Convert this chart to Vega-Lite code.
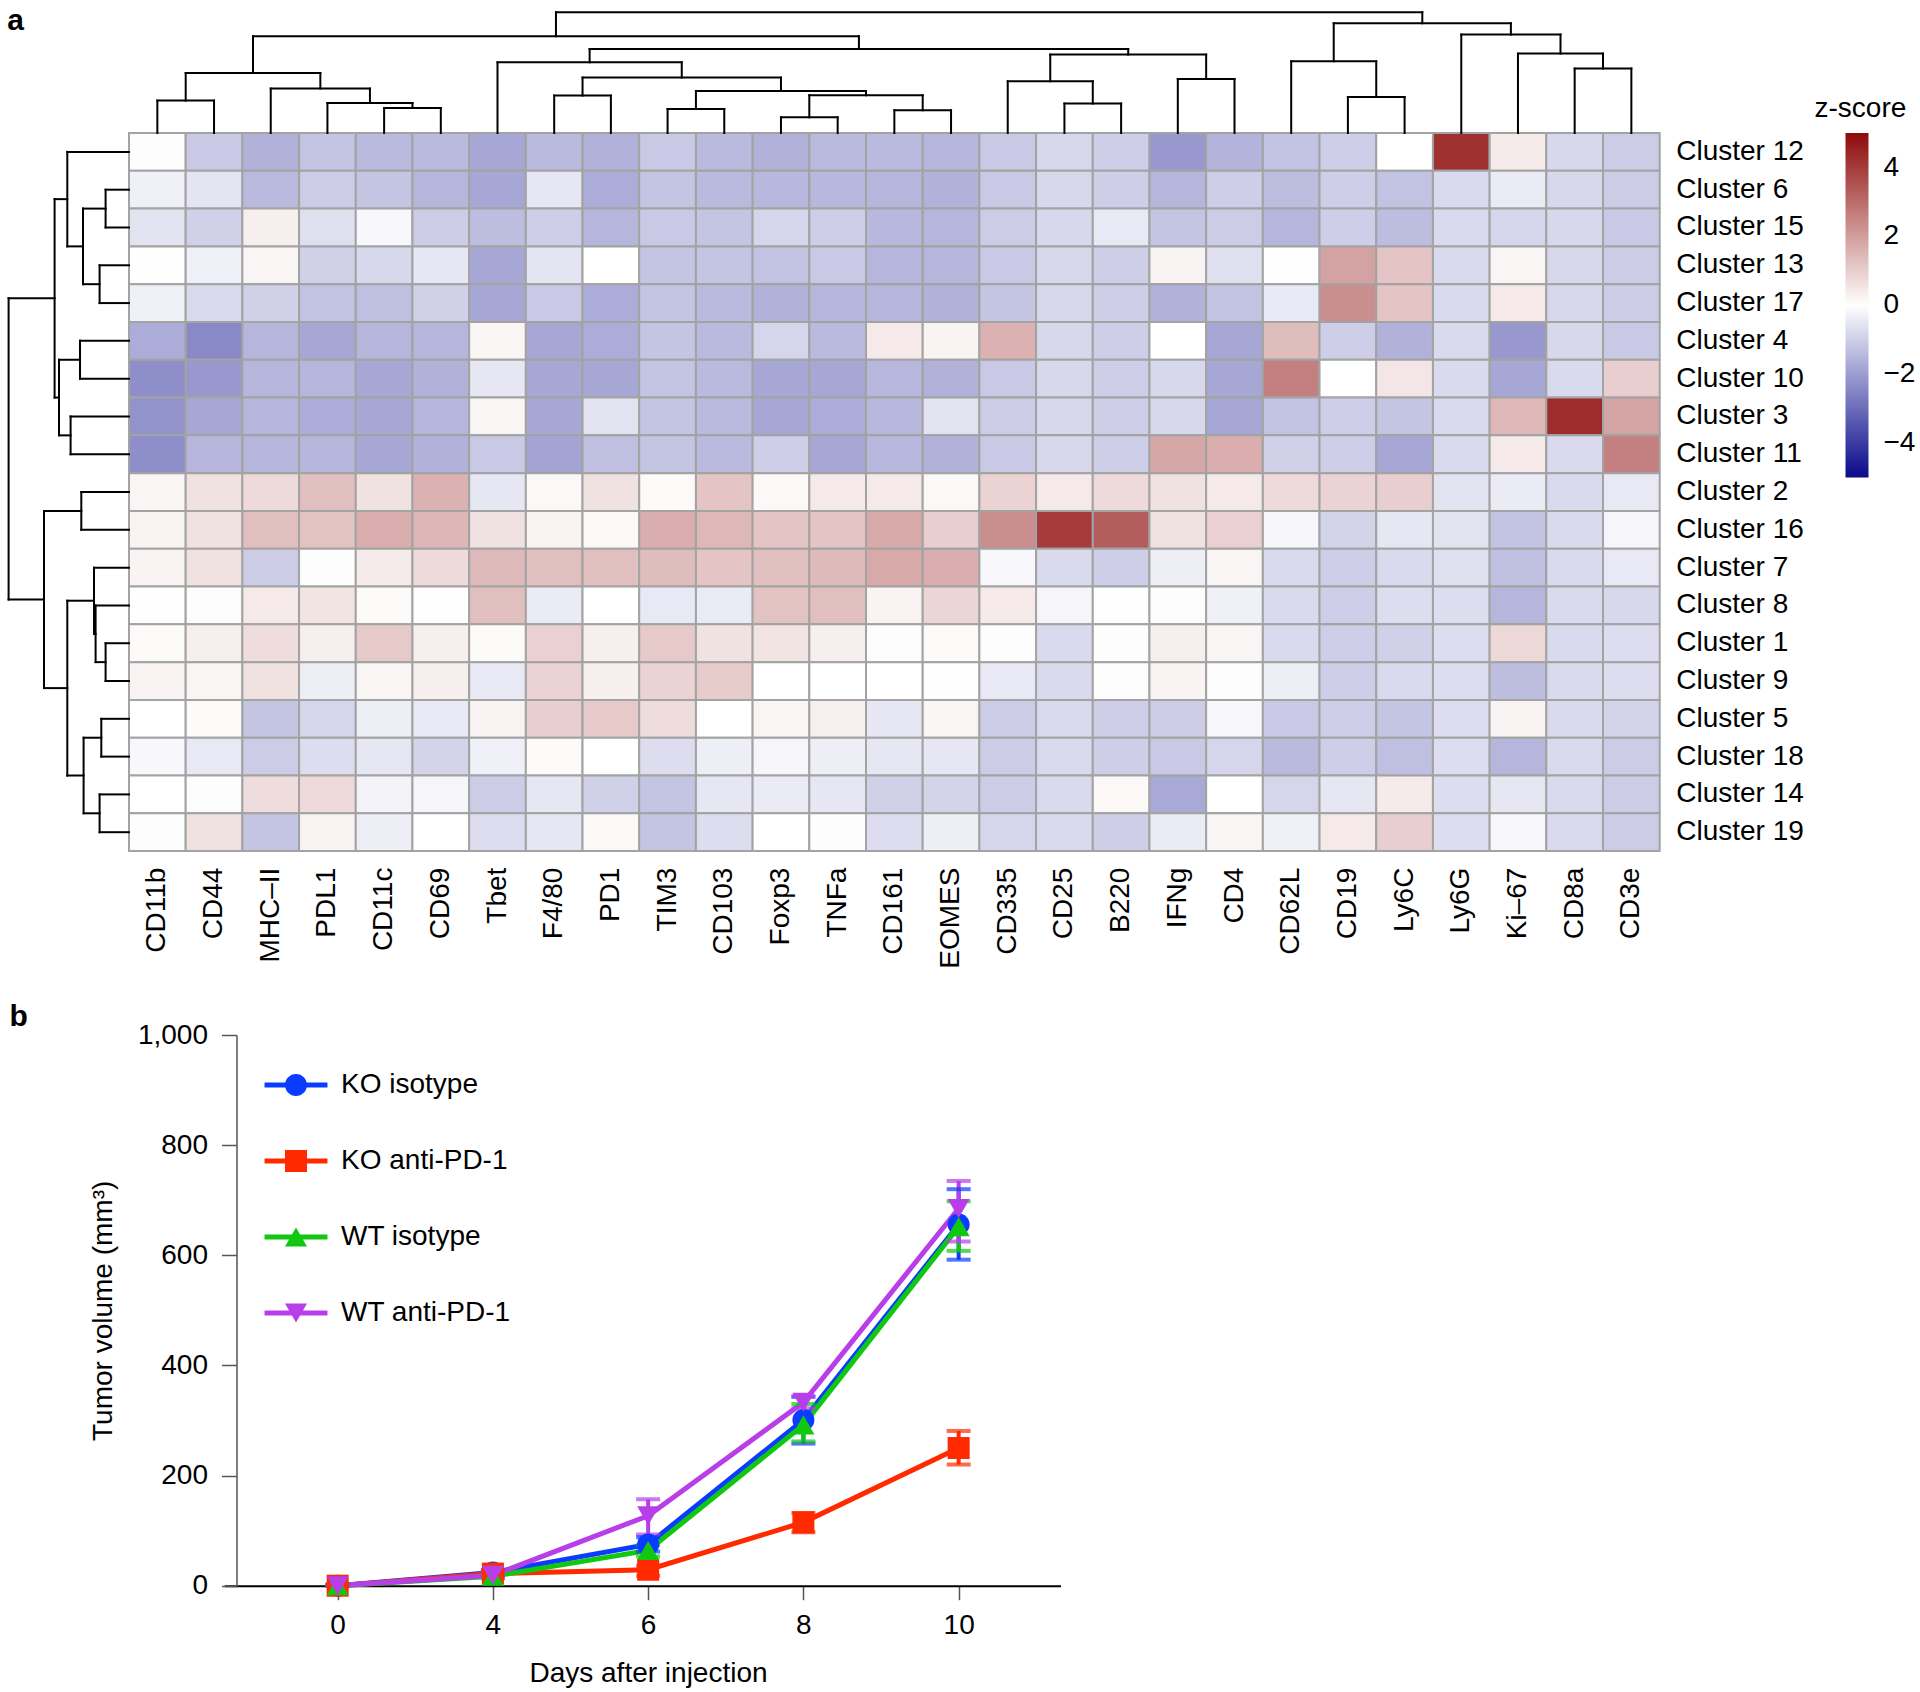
{
"$schema": "https://vega.github.io/schema/vega-lite/v6.json",
"background": "white",
"padding": {"left": 7, "top": 5, "right": 0, "bottom": 0},
"columns": 1,
"align": "none",
"spacing": 33,
"config": {
  "font": "Liberation Sans",
  "view": {"stroke": null},
  "axis": {"labelColor": "black", "titleColor": "black", "titleFontWeight": "normal", "grid": false},
  "legend": {"labelColor": "black", "titleColor": "black"}
},
"concat": [
{
  "width": 1530.7,
  "height": 718.1,
  "title": {"text": "a", "anchor": "start", "frame": "bounds", "fontSize": 30, "fontWeight": "bold", "baseline": "alphabetic", "offset": -12, "dy": 37, "color": "black"},
  "resolve": {"scale": {"x": "independent", "y": "independent"}},
  "layer": [
  {
    "data": {"values": [
{"cluster":"Cluster 12","marker":"CD11b","z":0.05},{"cluster":"Cluster 12","marker":"CD44","z":-1.1},{"cluster":"Cluster 12","marker":"MHC–II","z":-1.6},{"cluster":"Cluster 12","marker":"PDL1","z":-1.2},{"cluster":"Cluster 12","marker":"CD11c","z":-1.4},{"cluster":"Cluster 12","marker":"CD69","z":-1.4},{"cluster":"Cluster 12","marker":"Tbet","z":-1.8},{"cluster":"Cluster 12","marker":"F4/80","z":-1.4},{"cluster":"Cluster 12","marker":"PD1","z":-1.6},{"cluster":"Cluster 12","marker":"TIM3","z":-1.1},{"cluster":"Cluster 12","marker":"CD103","z":-1.4},{"cluster":"Cluster 12","marker":"Foxp3","z":-1.6},{"cluster":"Cluster 12","marker":"TNFa","z":-1.4},{"cluster":"Cluster 12","marker":"CD161","z":-1.4},{"cluster":"Cluster 12","marker":"EOMES","z":-1.5},{"cluster":"Cluster 12","marker":"CD335","z":-1.1},{"cluster":"Cluster 12","marker":"CD25","z":-0.8},{"cluster":"Cluster 12","marker":"B220","z":-1.0},{"cluster":"Cluster 12","marker":"IFNg","z":-2.1},{"cluster":"Cluster 12","marker":"CD4","z":-1.55},{"cluster":"Cluster 12","marker":"CD62L","z":-1.25},{"cluster":"Cluster 12","marker":"CD19","z":-1.0},{"cluster":"Cluster 12","marker":"Ly6C","z":0},{"cluster":"Cluster 12","marker":"Ly6G","z":4.2},{"cluster":"Cluster 12","marker":"Ki–67","z":0.4},{"cluster":"Cluster 12","marker":"CD8a","z":-0.8},{"cluster":"Cluster 12","marker":"CD3e","z":-1.05},
{"cluster":"Cluster 6","marker":"CD11b","z":-0.3},{"cluster":"Cluster 6","marker":"CD44","z":-0.55},{"cluster":"Cluster 6","marker":"MHC–II","z":-1.4},{"cluster":"Cluster 6","marker":"PDL1","z":-1.05},{"cluster":"Cluster 6","marker":"CD11c","z":-1.2},{"cluster":"Cluster 6","marker":"CD69","z":-1.5},{"cluster":"Cluster 6","marker":"Tbet","z":-1.8},{"cluster":"Cluster 6","marker":"F4/80","z":-0.5},{"cluster":"Cluster 6","marker":"PD1","z":-1.7},{"cluster":"Cluster 6","marker":"TIM3","z":-1.2},{"cluster":"Cluster 6","marker":"CD103","z":-1.4},{"cluster":"Cluster 6","marker":"Foxp3","z":-1.45},{"cluster":"Cluster 6","marker":"TNFa","z":-1.45},{"cluster":"Cluster 6","marker":"CD161","z":-1.5},{"cluster":"Cluster 6","marker":"EOMES","z":-1.6},{"cluster":"Cluster 6","marker":"CD335","z":-1.1},{"cluster":"Cluster 6","marker":"CD25","z":-0.8},{"cluster":"Cluster 6","marker":"B220","z":-1.0},{"cluster":"Cluster 6","marker":"IFNg","z":-1.5},{"cluster":"Cluster 6","marker":"CD4","z":-1.0},{"cluster":"Cluster 6","marker":"CD62L","z":-1.35},{"cluster":"Cluster 6","marker":"CD19","z":-1.0},{"cluster":"Cluster 6","marker":"Ly6C","z":-1.25},{"cluster":"Cluster 6","marker":"Ly6G","z":-0.75},{"cluster":"Cluster 6","marker":"Ki–67","z":-0.4},{"cluster":"Cluster 6","marker":"CD8a","z":-0.8},{"cluster":"Cluster 6","marker":"CD3e","z":-1.05},
{"cluster":"Cluster 15","marker":"CD11b","z":-0.6},{"cluster":"Cluster 15","marker":"CD44","z":-0.95},{"cluster":"Cluster 15","marker":"MHC–II","z":0.35},{"cluster":"Cluster 15","marker":"PDL1","z":-0.65},{"cluster":"Cluster 15","marker":"CD11c","z":-0.15},{"cluster":"Cluster 15","marker":"CD69","z":-1.05},{"cluster":"Cluster 15","marker":"Tbet","z":-1.35},{"cluster":"Cluster 15","marker":"F4/80","z":-1.0},{"cluster":"Cluster 15","marker":"PD1","z":-1.5},{"cluster":"Cluster 15","marker":"TIM3","z":-1.1},{"cluster":"Cluster 15","marker":"CD103","z":-1.2},{"cluster":"Cluster 15","marker":"Foxp3","z":-0.85},{"cluster":"Cluster 15","marker":"TNFa","z":-1.0},{"cluster":"Cluster 15","marker":"CD161","z":-1.45},{"cluster":"Cluster 15","marker":"EOMES","z":-1.5},{"cluster":"Cluster 15","marker":"CD335","z":-1.05},{"cluster":"Cluster 15","marker":"CD25","z":-0.8},{"cluster":"Cluster 15","marker":"B220","z":-0.45},{"cluster":"Cluster 15","marker":"IFNg","z":-1.2},{"cluster":"Cluster 15","marker":"CD4","z":-1.05},{"cluster":"Cluster 15","marker":"CD62L","z":-1.5},{"cluster":"Cluster 15","marker":"CD19","z":-1.0},{"cluster":"Cluster 15","marker":"Ly6C","z":-1.35},{"cluster":"Cluster 15","marker":"Ly6G","z":-0.75},{"cluster":"Cluster 15","marker":"Ki–67","z":-0.85},{"cluster":"Cluster 15","marker":"CD8a","z":-0.8},{"cluster":"Cluster 15","marker":"CD3e","z":-1.1},
{"cluster":"Cluster 13","marker":"CD11b","z":0.02},{"cluster":"Cluster 13","marker":"CD44","z":-0.3},{"cluster":"Cluster 13","marker":"MHC–II","z":0.2},{"cluster":"Cluster 13","marker":"PDL1","z":-0.95},{"cluster":"Cluster 13","marker":"CD11c","z":-0.8},{"cluster":"Cluster 13","marker":"CD69","z":-0.5},{"cluster":"Cluster 13","marker":"Tbet","z":-1.8},{"cluster":"Cluster 13","marker":"F4/80","z":-0.55},{"cluster":"Cluster 13","marker":"PD1","z":0},{"cluster":"Cluster 13","marker":"TIM3","z":-1.2},{"cluster":"Cluster 13","marker":"CD103","z":-1.2},{"cluster":"Cluster 13","marker":"Foxp3","z":-1.25},{"cluster":"Cluster 13","marker":"TNFa","z":-1.1},{"cluster":"Cluster 13","marker":"CD161","z":-1.5},{"cluster":"Cluster 13","marker":"EOMES","z":-1.5},{"cluster":"Cluster 13","marker":"CD335","z":-1.1},{"cluster":"Cluster 13","marker":"CD25","z":-0.8},{"cluster":"Cluster 13","marker":"B220","z":-1.0},{"cluster":"Cluster 13","marker":"IFNg","z":0.25},{"cluster":"Cluster 13","marker":"CD4","z":-0.65},{"cluster":"Cluster 13","marker":"CD62L","z":0.02},{"cluster":"Cluster 13","marker":"CD19","z":1.9},{"cluster":"Cluster 13","marker":"Ly6C","z":1.2},{"cluster":"Cluster 13","marker":"Ly6G","z":-0.75},{"cluster":"Cluster 13","marker":"Ki–67","z":0.2},{"cluster":"Cluster 13","marker":"CD8a","z":-0.8},{"cluster":"Cluster 13","marker":"CD3e","z":-1.05},
{"cluster":"Cluster 17","marker":"CD11b","z":-0.3},{"cluster":"Cluster 17","marker":"CD44","z":-0.75},{"cluster":"Cluster 17","marker":"MHC–II","z":-0.95},{"cluster":"Cluster 17","marker":"PDL1","z":-1.25},{"cluster":"Cluster 17","marker":"CD11c","z":-1.3},{"cluster":"Cluster 17","marker":"CD69","z":-0.95},{"cluster":"Cluster 17","marker":"Tbet","z":-1.8},{"cluster":"Cluster 17","marker":"F4/80","z":-1.1},{"cluster":"Cluster 17","marker":"PD1","z":-1.7},{"cluster":"Cluster 17","marker":"TIM3","z":-1.2},{"cluster":"Cluster 17","marker":"CD103","z":-1.4},{"cluster":"Cluster 17","marker":"Foxp3","z":-1.6},{"cluster":"Cluster 17","marker":"TNFa","z":-1.5},{"cluster":"Cluster 17","marker":"CD161","z":-1.5},{"cluster":"Cluster 17","marker":"EOMES","z":-1.6},{"cluster":"Cluster 17","marker":"CD335","z":-1.2},{"cluster":"Cluster 17","marker":"CD25","z":-0.8},{"cluster":"Cluster 17","marker":"B220","z":-1.0},{"cluster":"Cluster 17","marker":"IFNg","z":-1.6},{"cluster":"Cluster 17","marker":"CD4","z":-1.25},{"cluster":"Cluster 17","marker":"CD62L","z":-0.45},{"cluster":"Cluster 17","marker":"CD19","z":2.3},{"cluster":"Cluster 17","marker":"Ly6C","z":1.2},{"cluster":"Cluster 17","marker":"Ly6G","z":-0.75},{"cluster":"Cluster 17","marker":"Ki–67","z":0.45},{"cluster":"Cluster 17","marker":"CD8a","z":-0.8},{"cluster":"Cluster 17","marker":"CD3e","z":-1.05},
{"cluster":"Cluster 4","marker":"CD11b","z":-1.7},{"cluster":"Cluster 4","marker":"CD44","z":-2.4},{"cluster":"Cluster 4","marker":"MHC–II","z":-1.5},{"cluster":"Cluster 4","marker":"PDL1","z":-1.8},{"cluster":"Cluster 4","marker":"CD11c","z":-1.5},{"cluster":"Cluster 4","marker":"CD69","z":-1.5},{"cluster":"Cluster 4","marker":"Tbet","z":0.2},{"cluster":"Cluster 4","marker":"F4/80","z":-1.8},{"cluster":"Cluster 4","marker":"PD1","z":-1.7},{"cluster":"Cluster 4","marker":"TIM3","z":-1.2},{"cluster":"Cluster 4","marker":"CD103","z":-1.4},{"cluster":"Cluster 4","marker":"Foxp3","z":-0.85},{"cluster":"Cluster 4","marker":"TNFa","z":-1.4},{"cluster":"Cluster 4","marker":"CD161","z":0.45},{"cluster":"Cluster 4","marker":"EOMES","z":0.25},{"cluster":"Cluster 4","marker":"CD335","z":1.6},{"cluster":"Cluster 4","marker":"CD25","z":-0.8},{"cluster":"Cluster 4","marker":"B220","z":-1.0},{"cluster":"Cluster 4","marker":"IFNg","z":0},{"cluster":"Cluster 4","marker":"CD4","z":-1.8},{"cluster":"Cluster 4","marker":"CD62L","z":1.35},{"cluster":"Cluster 4","marker":"CD19","z":-1.0},{"cluster":"Cluster 4","marker":"Ly6C","z":-1.6},{"cluster":"Cluster 4","marker":"Ly6G","z":-0.75},{"cluster":"Cluster 4","marker":"Ki–67","z":-2.1},{"cluster":"Cluster 4","marker":"CD8a","z":-0.8},{"cluster":"Cluster 4","marker":"CD3e","z":-1.1},
{"cluster":"Cluster 10","marker":"CD11b","z":-2.3},{"cluster":"Cluster 10","marker":"CD44","z":-2.1},{"cluster":"Cluster 10","marker":"MHC–II","z":-1.5},{"cluster":"Cluster 10","marker":"PDL1","z":-1.5},{"cluster":"Cluster 10","marker":"CD11c","z":-1.8},{"cluster":"Cluster 10","marker":"CD69","z":-1.6},{"cluster":"Cluster 10","marker":"Tbet","z":-0.5},{"cluster":"Cluster 10","marker":"F4/80","z":-1.8},{"cluster":"Cluster 10","marker":"PD1","z":-1.8},{"cluster":"Cluster 10","marker":"TIM3","z":-1.2},{"cluster":"Cluster 10","marker":"CD103","z":-1.4},{"cluster":"Cluster 10","marker":"Foxp3","z":-1.8},{"cluster":"Cluster 10","marker":"TNFa","z":-1.8},{"cluster":"Cluster 10","marker":"CD161","z":-1.45},{"cluster":"Cluster 10","marker":"EOMES","z":-1.6},{"cluster":"Cluster 10","marker":"CD335","z":-1.1},{"cluster":"Cluster 10","marker":"CD25","z":-0.8},{"cluster":"Cluster 10","marker":"B220","z":-1.0},{"cluster":"Cluster 10","marker":"IFNg","z":-0.8},{"cluster":"Cluster 10","marker":"CD4","z":-1.8},{"cluster":"Cluster 10","marker":"CD62L","z":2.6},{"cluster":"Cluster 10","marker":"CD19","z":0},{"cluster":"Cluster 10","marker":"Ly6C","z":0.5},{"cluster":"Cluster 10","marker":"Ly6G","z":-0.75},{"cluster":"Cluster 10","marker":"Ki–67","z":-1.8},{"cluster":"Cluster 10","marker":"CD8a","z":-0.75},{"cluster":"Cluster 10","marker":"CD3e","z":1.0},
{"cluster":"Cluster 3","marker":"CD11b","z":-2.2},{"cluster":"Cluster 3","marker":"CD44","z":-1.8},{"cluster":"Cluster 3","marker":"MHC–II","z":-1.5},{"cluster":"Cluster 3","marker":"PDL1","z":-1.7},{"cluster":"Cluster 3","marker":"CD11c","z":-1.8},{"cluster":"Cluster 3","marker":"CD69","z":-1.5},{"cluster":"Cluster 3","marker":"Tbet","z":0.2},{"cluster":"Cluster 3","marker":"F4/80","z":-1.8},{"cluster":"Cluster 3","marker":"PD1","z":-0.6},{"cluster":"Cluster 3","marker":"TIM3","z":-1.2},{"cluster":"Cluster 3","marker":"CD103","z":-1.4},{"cluster":"Cluster 3","marker":"Foxp3","z":-1.8},{"cluster":"Cluster 3","marker":"TNFa","z":-1.7},{"cluster":"Cluster 3","marker":"CD161","z":-1.45},{"cluster":"Cluster 3","marker":"EOMES","z":-0.6},{"cluster":"Cluster 3","marker":"CD335","z":-1.05},{"cluster":"Cluster 3","marker":"CD25","z":-0.8},{"cluster":"Cluster 3","marker":"B220","z":-1.0},{"cluster":"Cluster 3","marker":"IFNg","z":-0.8},{"cluster":"Cluster 3","marker":"CD4","z":-1.8},{"cluster":"Cluster 3","marker":"CD62L","z":-1.25},{"cluster":"Cluster 3","marker":"CD19","z":-1.0},{"cluster":"Cluster 3","marker":"Ly6C","z":-1.2},{"cluster":"Cluster 3","marker":"Ly6G","z":-0.75},{"cluster":"Cluster 3","marker":"Ki–67","z":1.45},{"cluster":"Cluster 3","marker":"CD8a","z":4.3},{"cluster":"Cluster 3","marker":"CD3e","z":1.85},
{"cluster":"Cluster 11","marker":"CD11b","z":-2.3},{"cluster":"Cluster 11","marker":"CD44","z":-1.5},{"cluster":"Cluster 11","marker":"MHC–II","z":-1.5},{"cluster":"Cluster 11","marker":"PDL1","z":-1.5},{"cluster":"Cluster 11","marker":"CD11c","z":-1.8},{"cluster":"Cluster 11","marker":"CD69","z":-1.6},{"cluster":"Cluster 11","marker":"Tbet","z":-1.1},{"cluster":"Cluster 11","marker":"F4/80","z":-1.85},{"cluster":"Cluster 11","marker":"PD1","z":-1.3},{"cluster":"Cluster 11","marker":"TIM3","z":-1.2},{"cluster":"Cluster 11","marker":"CD103","z":-1.4},{"cluster":"Cluster 11","marker":"Foxp3","z":-1.0},{"cluster":"Cluster 11","marker":"TNFa","z":-1.8},{"cluster":"Cluster 11","marker":"CD161","z":-1.45},{"cluster":"Cluster 11","marker":"EOMES","z":-1.6},{"cluster":"Cluster 11","marker":"CD335","z":-1.1},{"cluster":"Cluster 11","marker":"CD25","z":-0.8},{"cluster":"Cluster 11","marker":"B220","z":-1.0},{"cluster":"Cluster 11","marker":"IFNg","z":1.8},{"cluster":"Cluster 11","marker":"CD4","z":1.65},{"cluster":"Cluster 11","marker":"CD62L","z":-0.95},{"cluster":"Cluster 11","marker":"CD19","z":-1.0},{"cluster":"Cluster 11","marker":"Ly6C","z":-1.8},{"cluster":"Cluster 11","marker":"Ly6G","z":-0.75},{"cluster":"Cluster 11","marker":"Ki–67","z":0.45},{"cluster":"Cluster 11","marker":"CD8a","z":-0.75},{"cluster":"Cluster 11","marker":"CD3e","z":2.6},
{"cluster":"Cluster 2","marker":"CD11b","z":0.2},{"cluster":"Cluster 2","marker":"CD44","z":0.6},{"cluster":"Cluster 2","marker":"MHC–II","z":0.75},{"cluster":"Cluster 2","marker":"PDL1","z":1.3},{"cluster":"Cluster 2","marker":"CD11c","z":0.6},{"cluster":"Cluster 2","marker":"CD69","z":1.6},{"cluster":"Cluster 2","marker":"Tbet","z":-0.5},{"cluster":"Cluster 2","marker":"F4/80","z":0.15},{"cluster":"Cluster 2","marker":"PD1","z":0.6},{"cluster":"Cluster 2","marker":"TIM3","z":0.1},{"cluster":"Cluster 2","marker":"CD103","z":1.2},{"cluster":"Cluster 2","marker":"Foxp3","z":0.15},{"cluster":"Cluster 2","marker":"TNFa","z":0.45},{"cluster":"Cluster 2","marker":"CD161","z":0.45},{"cluster":"Cluster 2","marker":"EOMES","z":0.15},{"cluster":"Cluster 2","marker":"CD335","z":0.9},{"cluster":"Cluster 2","marker":"CD25","z":0.45},{"cluster":"Cluster 2","marker":"B220","z":0.75},{"cluster":"Cluster 2","marker":"IFNg","z":0.6},{"cluster":"Cluster 2","marker":"CD4","z":0.45},{"cluster":"Cluster 2","marker":"CD62L","z":0.75},{"cluster":"Cluster 2","marker":"CD19","z":0.9},{"cluster":"Cluster 2","marker":"Ly6C","z":1.0},{"cluster":"Cluster 2","marker":"Ly6G","z":-0.6},{"cluster":"Cluster 2","marker":"Ki–67","z":-0.4},{"cluster":"Cluster 2","marker":"CD8a","z":-0.75},{"cluster":"Cluster 2","marker":"CD3e","z":-0.45},
{"cluster":"Cluster 16","marker":"CD11b","z":0.25},{"cluster":"Cluster 16","marker":"CD44","z":0.6},{"cluster":"Cluster 16","marker":"MHC–II","z":1.3},{"cluster":"Cluster 16","marker":"PDL1","z":1.25},{"cluster":"Cluster 16","marker":"CD11c","z":1.65},{"cluster":"Cluster 16","marker":"CD69","z":1.5},{"cluster":"Cluster 16","marker":"Tbet","z":0.6},{"cluster":"Cluster 16","marker":"F4/80","z":0.25},{"cluster":"Cluster 16","marker":"PD1","z":0.15},{"cluster":"Cluster 16","marker":"TIM3","z":1.65},{"cluster":"Cluster 16","marker":"CD103","z":1.45},{"cluster":"Cluster 16","marker":"Foxp3","z":1.2},{"cluster":"Cluster 16","marker":"TNFa","z":1.2},{"cluster":"Cluster 16","marker":"CD161","z":1.75},{"cluster":"Cluster 16","marker":"EOMES","z":1.0},{"cluster":"Cluster 16","marker":"CD335","z":2.3},{"cluster":"Cluster 16","marker":"CD25","z":4.0},{"cluster":"Cluster 16","marker":"B220","z":3.3},{"cluster":"Cluster 16","marker":"IFNg","z":0.6},{"cluster":"Cluster 16","marker":"CD4","z":0.95},{"cluster":"Cluster 16","marker":"CD62L","z":-0.2},{"cluster":"Cluster 16","marker":"CD19","z":-0.9},{"cluster":"Cluster 16","marker":"Ly6C","z":-0.5},{"cluster":"Cluster 16","marker":"Ly6G","z":-0.6},{"cluster":"Cluster 16","marker":"Ki–67","z":-1.25},{"cluster":"Cluster 16","marker":"CD8a","z":-0.75},{"cluster":"Cluster 16","marker":"CD3e","z":-0.2},
{"cluster":"Cluster 7","marker":"CD11b","z":0.25},{"cluster":"Cluster 7","marker":"CD44","z":0.6},{"cluster":"Cluster 7","marker":"MHC–II","z":-1.05},{"cluster":"Cluster 7","marker":"PDL1","z":0.05},{"cluster":"Cluster 7","marker":"CD11c","z":0.4},{"cluster":"Cluster 7","marker":"CD69","z":0.75},{"cluster":"Cluster 7","marker":"Tbet","z":1.4},{"cluster":"Cluster 7","marker":"F4/80","z":1.3},{"cluster":"Cluster 7","marker":"PD1","z":1.3},{"cluster":"Cluster 7","marker":"TIM3","z":1.35},{"cluster":"Cluster 7","marker":"CD103","z":1.2},{"cluster":"Cluster 7","marker":"Foxp3","z":1.3},{"cluster":"Cluster 7","marker":"TNFa","z":1.4},{"cluster":"Cluster 7","marker":"CD161","z":1.75},{"cluster":"Cluster 7","marker":"EOMES","z":1.65},{"cluster":"Cluster 7","marker":"CD335","z":-0.15},{"cluster":"Cluster 7","marker":"CD25","z":-0.75},{"cluster":"Cluster 7","marker":"B220","z":-1.0},{"cluster":"Cluster 7","marker":"IFNg","z":-0.35},{"cluster":"Cluster 7","marker":"CD4","z":0.2},{"cluster":"Cluster 7","marker":"CD62L","z":-0.75},{"cluster":"Cluster 7","marker":"CD19","z":-1.0},{"cluster":"Cluster 7","marker":"Ly6C","z":-0.75},{"cluster":"Cluster 7","marker":"Ly6G","z":-0.65},{"cluster":"Cluster 7","marker":"Ki–67","z":-1.3},{"cluster":"Cluster 7","marker":"CD8a","z":-0.75},{"cluster":"Cluster 7","marker":"CD3e","z":-0.45},
{"cluster":"Cluster 8","marker":"CD11b","z":0.02},{"cluster":"Cluster 8","marker":"CD44","z":0.05},{"cluster":"Cluster 8","marker":"MHC–II","z":0.45},{"cluster":"Cluster 8","marker":"PDL1","z":0.55},{"cluster":"Cluster 8","marker":"CD11c","z":0.1},{"cluster":"Cluster 8","marker":"CD69","z":0.02},{"cluster":"Cluster 8","marker":"Tbet","z":1.3},{"cluster":"Cluster 8","marker":"F4/80","z":-0.4},{"cluster":"Cluster 8","marker":"PD1","z":0},{"cluster":"Cluster 8","marker":"TIM3","z":-0.45},{"cluster":"Cluster 8","marker":"CD103","z":-0.4},{"cluster":"Cluster 8","marker":"Foxp3","z":1.25},{"cluster":"Cluster 8","marker":"TNFa","z":1.3},{"cluster":"Cluster 8","marker":"CD161","z":0.25},{"cluster":"Cluster 8","marker":"EOMES","z":0.85},{"cluster":"Cluster 8","marker":"CD335","z":0.45},{"cluster":"Cluster 8","marker":"CD25","z":-0.2},{"cluster":"Cluster 8","marker":"B220","z":0.02},{"cluster":"Cluster 8","marker":"IFNg","z":0.05},{"cluster":"Cluster 8","marker":"CD4","z":-0.3},{"cluster":"Cluster 8","marker":"CD62L","z":-0.75},{"cluster":"Cluster 8","marker":"CD19","z":-1.0},{"cluster":"Cluster 8","marker":"Ly6C","z":-0.7},{"cluster":"Cluster 8","marker":"Ly6G","z":-0.7},{"cluster":"Cluster 8","marker":"Ki–67","z":-1.5},{"cluster":"Cluster 8","marker":"CD8a","z":-0.75},{"cluster":"Cluster 8","marker":"CD3e","z":-0.8},
{"cluster":"Cluster 1","marker":"CD11b","z":0.1},{"cluster":"Cluster 1","marker":"CD44","z":0.35},{"cluster":"Cluster 1","marker":"MHC–II","z":0.7},{"cluster":"Cluster 1","marker":"PDL1","z":0.35},{"cluster":"Cluster 1","marker":"CD11c","z":1.1},{"cluster":"Cluster 1","marker":"CD69","z":0.35},{"cluster":"Cluster 1","marker":"Tbet","z":0.1},{"cluster":"Cluster 1","marker":"F4/80","z":0.95},{"cluster":"Cluster 1","marker":"PD1","z":0.35},{"cluster":"Cluster 1","marker":"TIM3","z":1.1},{"cluster":"Cluster 1","marker":"CD103","z":0.6},{"cluster":"Cluster 1","marker":"Foxp3","z":0.55},{"cluster":"Cluster 1","marker":"TNFa","z":0.35},{"cluster":"Cluster 1","marker":"CD161","z":0.05},{"cluster":"Cluster 1","marker":"EOMES","z":0.1},{"cluster":"Cluster 1","marker":"CD335","z":0.05},{"cluster":"Cluster 1","marker":"CD25","z":-0.75},{"cluster":"Cluster 1","marker":"B220","z":0.05},{"cluster":"Cluster 1","marker":"IFNg","z":0.35},{"cluster":"Cluster 1","marker":"CD4","z":0.2},{"cluster":"Cluster 1","marker":"CD62L","z":-0.75},{"cluster":"Cluster 1","marker":"CD19","z":-1.0},{"cluster":"Cluster 1","marker":"Ly6C","z":-0.95},{"cluster":"Cluster 1","marker":"Ly6G","z":-0.7},{"cluster":"Cluster 1","marker":"Ki–67","z":0.8},{"cluster":"Cluster 1","marker":"CD8a","z":-0.75},{"cluster":"Cluster 1","marker":"CD3e","z":-0.7},
{"cluster":"Cluster 9","marker":"CD11b","z":0.25},{"cluster":"Cluster 9","marker":"CD44","z":0.2},{"cluster":"Cluster 9","marker":"MHC–II","z":0.6},{"cluster":"Cluster 9","marker":"PDL1","z":-0.35},{"cluster":"Cluster 9","marker":"CD11c","z":0.2},{"cluster":"Cluster 9","marker":"CD69","z":0.35},{"cluster":"Cluster 9","marker":"Tbet","z":-0.45},{"cluster":"Cluster 9","marker":"F4/80","z":0.9},{"cluster":"Cluster 9","marker":"PD1","z":0.35},{"cluster":"Cluster 9","marker":"TIM3","z":0.9},{"cluster":"Cluster 9","marker":"CD103","z":1.05},{"cluster":"Cluster 9","marker":"Foxp3","z":0},{"cluster":"Cluster 9","marker":"TNFa","z":0},{"cluster":"Cluster 9","marker":"CD161","z":0},{"cluster":"Cluster 9","marker":"EOMES","z":0.03},{"cluster":"Cluster 9","marker":"CD335","z":-0.45},{"cluster":"Cluster 9","marker":"CD25","z":-0.75},{"cluster":"Cluster 9","marker":"B220","z":0.05},{"cluster":"Cluster 9","marker":"IFNg","z":0.25},{"cluster":"Cluster 9","marker":"CD4","z":0.05},{"cluster":"Cluster 9","marker":"CD62L","z":-0.35},{"cluster":"Cluster 9","marker":"CD19","z":-1.0},{"cluster":"Cluster 9","marker":"Ly6C","z":-0.75},{"cluster":"Cluster 9","marker":"Ly6G","z":-0.7},{"cluster":"Cluster 9","marker":"Ki–67","z":-1.35},{"cluster":"Cluster 9","marker":"CD8a","z":-0.75},{"cluster":"Cluster 9","marker":"CD3e","z":-0.7},
{"cluster":"Cluster 5","marker":"CD11b","z":0},{"cluster":"Cluster 5","marker":"CD44","z":0.1},{"cluster":"Cluster 5","marker":"MHC–II","z":-1.2},{"cluster":"Cluster 5","marker":"PDL1","z":-0.85},{"cluster":"Cluster 5","marker":"CD11c","z":-0.35},{"cluster":"Cluster 5","marker":"CD69","z":-0.45},{"cluster":"Cluster 5","marker":"Tbet","z":0.25},{"cluster":"Cluster 5","marker":"F4/80","z":1.0},{"cluster":"Cluster 5","marker":"PD1","z":1.1},{"cluster":"Cluster 5","marker":"TIM3","z":0.7},{"cluster":"Cluster 5","marker":"CD103","z":0},{"cluster":"Cluster 5","marker":"Foxp3","z":0.2},{"cluster":"Cluster 5","marker":"TNFa","z":0.3},{"cluster":"Cluster 5","marker":"CD161","z":-0.5},{"cluster":"Cluster 5","marker":"EOMES","z":0.2},{"cluster":"Cluster 5","marker":"CD335","z":-1.05},{"cluster":"Cluster 5","marker":"CD25","z":-0.75},{"cluster":"Cluster 5","marker":"B220","z":-1.0},{"cluster":"Cluster 5","marker":"IFNg","z":-1.05},{"cluster":"Cluster 5","marker":"CD4","z":-0.15},{"cluster":"Cluster 5","marker":"CD62L","z":-1.1},{"cluster":"Cluster 5","marker":"CD19","z":-1.0},{"cluster":"Cluster 5","marker":"Ly6C","z":-1.2},{"cluster":"Cluster 5","marker":"Ly6G","z":-0.7},{"cluster":"Cluster 5","marker":"Ki–67","z":0.25},{"cluster":"Cluster 5","marker":"CD8a","z":-0.75},{"cluster":"Cluster 5","marker":"CD3e","z":-0.9},
{"cluster":"Cluster 18","marker":"CD11b","z":-0.15},{"cluster":"Cluster 18","marker":"CD44","z":-0.45},{"cluster":"Cluster 18","marker":"MHC–II","z":-1.05},{"cluster":"Cluster 18","marker":"PDL1","z":-0.7},{"cluster":"Cluster 18","marker":"CD11c","z":-0.5},{"cluster":"Cluster 18","marker":"CD69","z":-0.9},{"cluster":"Cluster 18","marker":"Tbet","z":-0.3},{"cluster":"Cluster 18","marker":"F4/80","z":0.1},{"cluster":"Cluster 18","marker":"PD1","z":0},{"cluster":"Cluster 18","marker":"TIM3","z":-0.7},{"cluster":"Cluster 18","marker":"CD103","z":-0.35},{"cluster":"Cluster 18","marker":"Foxp3","z":-0.2},{"cluster":"Cluster 18","marker":"TNFa","z":-0.35},{"cluster":"Cluster 18","marker":"CD161","z":-0.5},{"cluster":"Cluster 18","marker":"EOMES","z":-0.5},{"cluster":"Cluster 18","marker":"CD335","z":-1.05},{"cluster":"Cluster 18","marker":"CD25","z":-0.75},{"cluster":"Cluster 18","marker":"B220","z":-1.0},{"cluster":"Cluster 18","marker":"IFNg","z":-1.1},{"cluster":"Cluster 18","marker":"CD4","z":-0.85},{"cluster":"Cluster 18","marker":"CD62L","z":-1.4},{"cluster":"Cluster 18","marker":"CD19","z":-1.0},{"cluster":"Cluster 18","marker":"Ly6C","z":-1.3},{"cluster":"Cluster 18","marker":"Ly6G","z":-0.7},{"cluster":"Cluster 18","marker":"Ki–67","z":-1.5},{"cluster":"Cluster 18","marker":"CD8a","z":-0.75},{"cluster":"Cluster 18","marker":"CD3e","z":-1.05},
{"cluster":"Cluster 14","marker":"CD11b","z":0},{"cluster":"Cluster 14","marker":"CD44","z":0.05},{"cluster":"Cluster 14","marker":"MHC–II","z":0.7},{"cluster":"Cluster 14","marker":"PDL1","z":0.75},{"cluster":"Cluster 14","marker":"CD11c","z":-0.25},{"cluster":"Cluster 14","marker":"CD69","z":-0.2},{"cluster":"Cluster 14","marker":"Tbet","z":-1.05},{"cluster":"Cluster 14","marker":"F4/80","z":-0.5},{"cluster":"Cluster 14","marker":"PD1","z":-0.95},{"cluster":"Cluster 14","marker":"TIM3","z":-1.2},{"cluster":"Cluster 14","marker":"CD103","z":-0.5},{"cluster":"Cluster 14","marker":"Foxp3","z":-0.4},{"cluster":"Cluster 14","marker":"TNFa","z":-0.5},{"cluster":"Cluster 14","marker":"CD161","z":-0.95},{"cluster":"Cluster 14","marker":"EOMES","z":-0.9},{"cluster":"Cluster 14","marker":"CD335","z":-1.05},{"cluster":"Cluster 14","marker":"CD25","z":-0.75},{"cluster":"Cluster 14","marker":"B220","z":0.15},{"cluster":"Cluster 14","marker":"IFNg","z":-1.75},{"cluster":"Cluster 14","marker":"CD4","z":0},{"cluster":"Cluster 14","marker":"CD62L","z":-0.85},{"cluster":"Cluster 14","marker":"CD19","z":-0.5},{"cluster":"Cluster 14","marker":"Ly6C","z":0.4},{"cluster":"Cluster 14","marker":"Ly6G","z":-0.7},{"cluster":"Cluster 14","marker":"Ki–67","z":-0.5},{"cluster":"Cluster 14","marker":"CD8a","z":-0.75},{"cluster":"Cluster 14","marker":"CD3e","z":-1.05},
{"cluster":"Cluster 19","marker":"CD11b","z":0.05},{"cluster":"Cluster 19","marker":"CD44","z":0.6},{"cluster":"Cluster 19","marker":"MHC–II","z":-1.2},{"cluster":"Cluster 19","marker":"PDL1","z":0.25},{"cluster":"Cluster 19","marker":"CD11c","z":-0.35},{"cluster":"Cluster 19","marker":"CD69","z":0},{"cluster":"Cluster 19","marker":"Tbet","z":-0.7},{"cluster":"Cluster 19","marker":"F4/80","z":-0.5},{"cluster":"Cluster 19","marker":"PD1","z":0.15},{"cluster":"Cluster 19","marker":"TIM3","z":-1.2},{"cluster":"Cluster 19","marker":"CD103","z":-0.7},{"cluster":"Cluster 19","marker":"Foxp3","z":0},{"cluster":"Cluster 19","marker":"TNFa","z":0.05},{"cluster":"Cluster 19","marker":"CD161","z":-0.7},{"cluster":"Cluster 19","marker":"EOMES","z":-0.35},{"cluster":"Cluster 19","marker":"CD335","z":-0.85},{"cluster":"Cluster 19","marker":"CD25","z":-0.75},{"cluster":"Cluster 19","marker":"B220","z":-1.0},{"cluster":"Cluster 19","marker":"IFNg","z":-0.4},{"cluster":"Cluster 19","marker":"CD4","z":0.2},{"cluster":"Cluster 19","marker":"CD62L","z":-0.3},{"cluster":"Cluster 19","marker":"CD19","z":0.45},{"cluster":"Cluster 19","marker":"Ly6C","z":1.0},{"cluster":"Cluster 19","marker":"Ly6G","z":-0.7},{"cluster":"Cluster 19","marker":"Ki–67","z":-0.15},{"cluster":"Cluster 19","marker":"CD8a","z":-0.75},{"cluster":"Cluster 19","marker":"CD3e","z":-1.05}
    ]},
    "mark": {"type": "rect", "stroke": "#a3a3a3", "strokeWidth": 2},
    "encoding": {
      "x": {"field": "marker", "type": "nominal",
        "sort": ["CD11b","CD44","MHC–II","PDL1","CD11c","CD69","Tbet","F4/80","PD1","TIM3","CD103","Foxp3","TNFa","CD161","EOMES","CD335","CD25","B220","IFNg","CD4","CD62L","CD19","Ly6C","Ly6G","Ki–67","CD8a","CD3e"],
        "scale": {"paddingInner": 0, "paddingOuter": 0},
        "axis": {"orient": "bottom", "title": null, "labelAngle": -90, "labelFontSize": 28, "labelPadding": 16, "ticks": false, "tickSize": 0, "domain": false, "labelLimit": 300}},
      "y": {"field": "cluster", "type": "nominal",
        "sort": ["Cluster 12","Cluster 6","Cluster 15","Cluster 13","Cluster 17","Cluster 4","Cluster 10","Cluster 3","Cluster 11","Cluster 2","Cluster 16","Cluster 7","Cluster 8","Cluster 1","Cluster 9","Cluster 5","Cluster 18","Cluster 14","Cluster 19"],
        "scale": {"paddingInner": 0, "paddingOuter": 0},
        "axis": {"orient": "right", "title": null, "labelFontSize": 28, "labelPadding": 16, "ticks": false, "tickSize": 0, "domain": false, "labelLimit": 300}},
      "color": {"field": "z", "type": "quantitative",
        "scale": {"domain": [-5, 0, 5], "range": ["#0a0a8c", "#ffffff", "#8e0a0a"], "interpolate": "rgb"},
        "legend": {"orient": "none", "legendX": 1685.5, "legendY": -37.9, "direction": "vertical", "gradientLength": 344.3, "gradientThickness": 23, "gradientStrokeWidth": 0, "values": [4, 2, 0, -2, -4], "title": "z-score", "titleFontSize": 28, "titleFontWeight": "normal", "titlePadding": 10, "titleAnchor": "start", "labelFontSize": 28, "labelOffset": 15, "padding": 0,
          "encode": {"title": {"update": {"dx": {"value": -31}}}}}}
    }
  },
  {
    "data": {"values": [
{"col":0,"col2":0,"h":0,"h2":3.24},{"col":1,"col2":1,"h":0,"h2":3.24},{"col":0,"col2":1,"h":3.24,"h2":3.24},
{"col":4,"col2":4,"h":0,"h2":2.5},{"col":5,"col2":5,"h":0,"h2":2.5},{"col":4,"col2":5,"h":2.5,"h2":2.5},
{"col":3,"col2":3,"h":0,"h2":3.0},{"col":4.5,"col2":4.5,"h":2.5,"h2":3.0},{"col":3,"col2":4.5,"h":3.0,"h2":3.0},
{"col":2,"col2":2,"h":0,"h2":4.44},{"col":3.75,"col2":3.75,"h":3.0,"h2":4.44},{"col":2,"col2":3.75,"h":4.44,"h2":4.44},
{"col":0.5,"col2":0.5,"h":3.24,"h2":6.0},{"col":2.875,"col2":2.875,"h":4.44,"h2":6.0},{"col":0.5,"col2":2.875,"h":6.0,"h2":6.0},
{"col":7,"col2":7,"h":0,"h2":3.74},{"col":8,"col2":8,"h":0,"h2":3.74},{"col":7,"col2":8,"h":3.74,"h2":3.74},
{"col":9,"col2":9,"h":0,"h2":2.4},{"col":10,"col2":10,"h":0,"h2":2.4},{"col":9,"col2":10,"h":2.4,"h2":2.4},
{"col":11,"col2":11,"h":0,"h2":1.57},{"col":12,"col2":12,"h":0,"h2":1.57},{"col":11,"col2":12,"h":1.57,"h2":1.57},
{"col":13,"col2":13,"h":0,"h2":2.27},{"col":14,"col2":14,"h":0,"h2":2.27},{"col":13,"col2":14,"h":2.27,"h2":2.27},
{"col":11.5,"col2":11.5,"h":1.57,"h2":3.77},{"col":13.5,"col2":13.5,"h":2.27,"h2":3.77},{"col":11.5,"col2":13.5,"h":3.77,"h2":3.77},
{"col":9.5,"col2":9.5,"h":2.4,"h2":4.2},{"col":12.5,"col2":12.5,"h":3.77,"h2":4.2},{"col":9.5,"col2":12.5,"h":4.2,"h2":4.2},
{"col":7.5,"col2":7.5,"h":3.74,"h2":5.54},{"col":11,"col2":11,"h":4.2,"h2":5.54},{"col":7.5,"col2":11,"h":5.54,"h2":5.54},
{"col":6,"col2":6,"h":0,"h2":7.07},{"col":9.25,"col2":9.25,"h":5.54,"h2":7.07},{"col":6,"col2":9.25,"h":7.07,"h2":7.07},
{"col":16,"col2":16,"h":0,"h2":2.94},{"col":17,"col2":17,"h":0,"h2":2.94},{"col":16,"col2":17,"h":2.94,"h2":2.94},
{"col":15,"col2":15,"h":0,"h2":5.17},{"col":16.5,"col2":16.5,"h":2.94,"h2":5.17},{"col":15,"col2":16.5,"h":5.17,"h2":5.17},
{"col":18,"col2":18,"h":0,"h2":5.4},{"col":19,"col2":19,"h":0,"h2":5.4},{"col":18,"col2":19,"h":5.4,"h2":5.4},
{"col":15.75,"col2":15.75,"h":5.17,"h2":7.84},{"col":18.5,"col2":18.5,"h":5.4,"h2":7.84},{"col":15.75,"col2":18.5,"h":7.84,"h2":7.84},
{"col":7.625,"col2":7.625,"h":7.07,"h2":8.4},{"col":17.125,"col2":17.125,"h":7.84,"h2":8.4},{"col":7.625,"col2":17.125,"h":8.4,"h2":8.4},
{"col":1.6875,"col2":1.6875,"h":6.0,"h2":9.67},{"col":12.375,"col2":12.375,"h":8.4,"h2":9.67},{"col":1.6875,"col2":12.375,"h":9.67,"h2":9.67},
{"col":21,"col2":21,"h":0,"h2":3.6},{"col":22,"col2":22,"h":0,"h2":3.6},{"col":21,"col2":22,"h":3.6,"h2":3.6},
{"col":20,"col2":20,"h":0,"h2":7.17},{"col":21.5,"col2":21.5,"h":3.6,"h2":7.17},{"col":20,"col2":21.5,"h":7.17,"h2":7.17},
{"col":25,"col2":25,"h":0,"h2":6.44},{"col":26,"col2":26,"h":0,"h2":6.44},{"col":25,"col2":26,"h":6.44,"h2":6.44},
{"col":24,"col2":24,"h":0,"h2":7.94},{"col":25.5,"col2":25.5,"h":6.44,"h2":7.94},{"col":24,"col2":25.5,"h":7.94,"h2":7.94},
{"col":23,"col2":23,"h":0,"h2":9.84},{"col":24.75,"col2":24.75,"h":7.94,"h2":9.84},{"col":23,"col2":24.75,"h":9.84,"h2":9.84},
{"col":20.75,"col2":20.75,"h":7.17,"h2":10.97},{"col":23.875,"col2":23.875,"h":9.84,"h2":10.97},{"col":20.75,"col2":23.875,"h":10.97,"h2":10.97},
{"col":7.03125,"col2":7.03125,"h":9.67,"h2":12.07},{"col":22.3125,"col2":22.3125,"h":10.97,"h2":12.07},{"col":7.03125,"col2":22.3125,"h":12.07,"h2":12.07}
    ]},
    "mark": {"type": "rule", "color": "black", "strokeWidth": 2, "strokeCap": "square"},
    "encoding": {
      "x": {"field": "col", "type": "quantitative", "scale": {"domain": [-0.5, 26.5], "nice": false, "zero": false}, "axis": null},
      "x2": {"field": "col2"},
      "y": {"field": "h", "type": "quantitative", "scale": {"domain": [-71.81, 0], "nice": false, "zero": false}, "axis": null},
      "y2": {"field": "h2"}
    }
  },
  {
    "data": {"values": [
{"row":1,"row2":1,"h":0,"h2":2.34},{"row":2,"row2":2,"h":0,"h2":2.34},{"row":1,"row2":2,"h":2.34,"h2":2.34},
{"row":3,"row2":3,"h":0,"h2":2.94},{"row":4,"row2":4,"h":0,"h2":2.94},{"row":3,"row2":4,"h":2.94,"h2":2.94},
{"row":1.5,"row2":1.5,"h":2.34,"h2":4.6},{"row":3.5,"row2":3.5,"h":2.94,"h2":4.6},{"row":1.5,"row2":3.5,"h":4.6,"h2":4.6},
{"row":0,"row2":0,"h":0,"h2":6.17},{"row":2.5,"row2":2.5,"h":4.6,"h2":6.17},{"row":0,"row2":2.5,"h":6.17,"h2":6.17},
{"row":5,"row2":5,"h":0,"h2":4.9},{"row":6,"row2":6,"h":0,"h2":4.9},{"row":5,"row2":6,"h":4.9,"h2":4.9},
{"row":7,"row2":7,"h":0,"h2":5.84},{"row":8,"row2":8,"h":0,"h2":5.84},{"row":7,"row2":8,"h":5.84,"h2":5.84},
{"row":5.5,"row2":5.5,"h":4.9,"h2":7.0},{"row":7.5,"row2":7.5,"h":5.84,"h2":7.0},{"row":5.5,"row2":7.5,"h":7.0,"h2":7.0},
{"row":1.25,"row2":1.25,"h":6.17,"h2":7.44},{"row":6.5,"row2":6.5,"h":7.0,"h2":7.44},{"row":1.25,"row2":6.5,"h":7.44,"h2":7.44},
{"row":9,"row2":9,"h":0,"h2":4.77},{"row":10,"row2":10,"h":0,"h2":4.77},{"row":9,"row2":10,"h":4.77,"h2":4.77},
{"row":13,"row2":13,"h":0,"h2":2.34},{"row":14,"row2":14,"h":0,"h2":2.34},{"row":13,"row2":14,"h":2.34,"h2":2.34},
{"row":12,"row2":12,"h":0,"h2":3.34},{"row":13.5,"row2":13.5,"h":2.34,"h2":3.34},{"row":12,"row2":13.5,"h":3.34,"h2":3.34},
{"row":11,"row2":11,"h":0,"h2":3.5},{"row":12.75,"row2":12.75,"h":3.34,"h2":3.5},{"row":11,"row2":12.75,"h":3.5,"h2":3.5},
{"row":15,"row2":15,"h":0,"h2":2.77},{"row":16,"row2":16,"h":0,"h2":2.77},{"row":15,"row2":16,"h":2.77,"h2":2.77},
{"row":17,"row2":17,"h":0,"h2":2.94},{"row":18,"row2":18,"h":0,"h2":2.94},{"row":17,"row2":18,"h":2.94,"h2":2.94},
{"row":15.5,"row2":15.5,"h":2.77,"h2":4.54},{"row":17.5,"row2":17.5,"h":2.94,"h2":4.54},{"row":15.5,"row2":17.5,"h":4.54,"h2":4.54},
{"row":11.875,"row2":11.875,"h":3.5,"h2":6.17},{"row":16.5,"row2":16.5,"h":4.54,"h2":6.17},{"row":11.875,"row2":16.5,"h":6.17,"h2":6.17},
{"row":9.5,"row2":9.5,"h":4.77,"h2":8.5},{"row":14.1875,"row2":14.1875,"h":6.17,"h2":8.5},{"row":9.5,"row2":14.1875,"h":8.5,"h2":8.5},
{"row":3.875,"row2":3.875,"h":7.44,"h2":12.04},{"row":11.84375,"row2":11.84375,"h":8.5,"h2":12.04},{"row":3.875,"row2":11.84375,"h":12.04,"h2":12.04}
    ]},
    "mark": {"type": "rule", "color": "black", "strokeWidth": 2, "strokeCap": "square"},
    "encoding": {
      "x": {"field": "h", "type": "quantitative", "scale": {"domain": [-153.07, 0], "reverse": true, "nice": false, "zero": false}, "axis": null},
      "x2": {"field": "h2"},
      "y": {"field": "row", "type": "quantitative", "scale": {"domain": [-0.5, 18.5], "reverse": true, "nice": false, "zero": false}, "axis": null},
      "y2": {"field": "row2"}
    }
  }
  ]
},
{
  "width": 931.5,
  "height": 550.7,
  "title": {"text": "b", "anchor": "start", "frame": "bounds", "fontSize": 30, "fontWeight": "bold", "baseline": "alphabetic", "offset": -7, "dx": -80, "dy": 28, "color": "black"},
  "data": {"values": [
{"group":"KO isotype","day":0,"mean":0,"lo":0,"hi":2},
{"group":"KO isotype","day":4,"mean":24,"lo":20,"hi":28},
{"group":"KO isotype","day":6,"mean":75,"lo":62,"hi":88},
{"group":"KO isotype","day":8,"mean":301,"lo":258,"hi":343},
{"group":"KO isotype","day":10,"mean":656,"lo":592,"hi":720},
{"group":"KO anti-PD-1","day":0,"mean":0,"lo":0,"hi":2},
{"group":"KO anti-PD-1","day":4,"mean":22,"lo":16,"hi":28},
{"group":"KO anti-PD-1","day":6,"mean":29,"lo":18,"hi":36},
{"group":"KO anti-PD-1","day":8,"mean":115,"lo":97,"hi":132},
{"group":"KO anti-PD-1","day":10,"mean":250,"lo":220,"hi":281},
{"group":"WT isotype","day":0,"mean":0,"lo":0,"hi":2},
{"group":"WT isotype","day":4,"mean":17,"lo":13,"hi":22},
{"group":"WT isotype","day":6,"mean":64,"lo":53,"hi":74},
{"group":"WT isotype","day":8,"mean":292,"lo":262,"hi":330},
{"group":"WT isotype","day":10,"mean":652,"lo":608,"hi":698},
{"group":"WT anti-PD-1","day":0,"mean":0,"lo":0,"hi":2},
{"group":"WT anti-PD-1","day":4,"mean":19,"lo":15,"hi":24},
{"group":"WT anti-PD-1","day":6,"mean":127,"lo":93,"hi":157},
{"group":"WT anti-PD-1","day":8,"mean":333,"lo":322,"hi":344},
{"group":"WT anti-PD-1","day":10,"mean":685,"lo":625,"hi":735}
  ]},
  "resolve": {"scale": {"color": "independent", "shape": "independent"}},
  "encoding": {
    "x": {"field": "day", "type": "ordinal", "scale": {"type": "point", "padding": 1.0126, "align": 0.672},
      "axis": {"labelAngle": 0, "title": "Days after injection", "labelFontSize": 28, "titleFontSize": 28, "tickSize": 14, "labelPadding": 12, "titlePadding": 20, "domainColor": "black", "domainWidth": 2, "domainDash": [0, 95.2, 5000, 0], "tickColor": "#555555", "tickWidth": 1.5, "titleX": 519}}
  },
  "layer": [
    {
      "mark": {"type": "line", "strokeWidth": 5},
      "encoding": {
        "y": {"field": "mean", "type": "quantitative", "scale": {"domain": [0, 1000], "nice": false},
          "axis": {"values": [0, 200, 400, 600, 800, 1000], "format": ",d", "title": "Tumor volume (mm³)", "offset": -107.5, "labelFontSize": 28, "titleFontSize": 28, "tickSize": 15, "labelPadding": 14, "titlePadding": 20, "domainColor": "#555555", "domainWidth": 1.5, "tickColor": "#555555", "tickWidth": 1.5}},
        "color": {"field": "group", "type": "nominal", "scale": {"domain": ["KO isotype","KO anti-PD-1","WT isotype","WT anti-PD-1"], "range": ["#0a3cff","#ff2a00","#10c810","#b83eea"]}, "legend": null}
      }
    },
    {
      "mark": {"type": "rule", "strokeWidth": 4},
      "encoding": {
        "y": {"field": "lo", "type": "quantitative"},
        "y2": {"field": "hi"},
        "color": {"field": "group", "type": "nominal", "scale": {"domain": ["KO isotype","KO anti-PD-1","WT isotype","WT anti-PD-1"], "range": ["#0a3cff","#ff2a00","#10c810","#b83eea"]}, "legend": null}
      }
    },
    {
      "mark": {"type": "tick", "thickness": 4, "size": 24},
      "encoding": {
        "y": {"field": "lo", "type": "quantitative"},
        "color": {"field": "group", "type": "nominal", "scale": {"domain": ["KO isotype","KO anti-PD-1","WT isotype","WT anti-PD-1"], "range": ["#0a3cff","#ff2a00","#10c810","#b83eea"]}, "legend": null}
      }
    },
    {
      "mark": {"type": "tick", "thickness": 4, "size": 24},
      "encoding": {
        "y": {"field": "hi", "type": "quantitative"},
        "color": {"field": "group", "type": "nominal", "scale": {"domain": ["KO isotype","KO anti-PD-1","WT isotype","WT anti-PD-1"], "range": ["#0a3cff","#ff2a00","#10c810","#b83eea"]}, "legend": null}
      }
    },
    {
      "mark": {"type": "point", "filled": true, "opacity": 1, "size": 484},
      "encoding": {
        "y": {"field": "mean", "type": "quantitative"},
        "color": {"field": "group", "type": "nominal", "scale": {"domain": ["KO isotype","KO anti-PD-1","WT isotype","WT anti-PD-1"], "range": ["#0a3cff","#ff2a00","#10c810","#b83eea"]}, "legend": null},
        "shape": {"field": "group", "type": "nominal", "scale": {"domain": ["KO isotype","KO anti-PD-1","WT isotype","WT anti-PD-1"], "range": ["circle","square","triangle-up","triangle-down"]}, "legend": null}
      }
    },
    {
      "transform": [{"filter": "false"}],
      "mark": {"type": "point", "filled": true, "opacity": 1},
      "encoding": {
        "y": {"field": "mean", "type": "quantitative"},
        "color": {"field": "group", "type": "nominal", "scale": {"domain": ["KO isotype","KO anti-PD-1","WT isotype","WT anti-PD-1"], "range": ["#0a3cff","#ff2a00","#10c810","#b83eea"]},
          "legend": {"orient": "none", "legendX": 153, "legendY": 36, "title": null, "symbolSize": 484, "symbolStrokeWidth": 0, "labelFontSize": 28, "labelOffset": 31, "labelLimit": 400, "rowPadding": 48, "padding": 0, "symbolOpacity": 1}},
        "shape": {"field": "group", "type": "nominal", "scale": {"domain": ["KO isotype","KO anti-PD-1","WT isotype","WT anti-PD-1"], "range": [
          "M-2.86,-0.23H2.86V0.23H-2.86Z M1,0A1,1,0,1,1,-1,0A1,1,0,1,1,1,0Z",
          "M-2.86,-0.23H2.86V0.23H-2.86Z M-1,-1H1V1H-1Z",
          "M-2.86,-0.23H2.86V0.23H-2.86Z M0,-0.87L1,0.87L-1,0.87Z",
          "M-2.86,-0.23H2.86V0.23H-2.86Z M-1,-0.87L1,-0.87L0,0.87Z"]},
          "legend": {"orient": "none", "legendX": 153, "legendY": 36, "title": null, "symbolSize": 484, "symbolStrokeWidth": 0, "labelFontSize": 28, "labelOffset": 31, "labelLimit": 400, "rowPadding": 48, "padding": 0, "symbolOpacity": 1}}
      }
    }
  ]
}
]
}
